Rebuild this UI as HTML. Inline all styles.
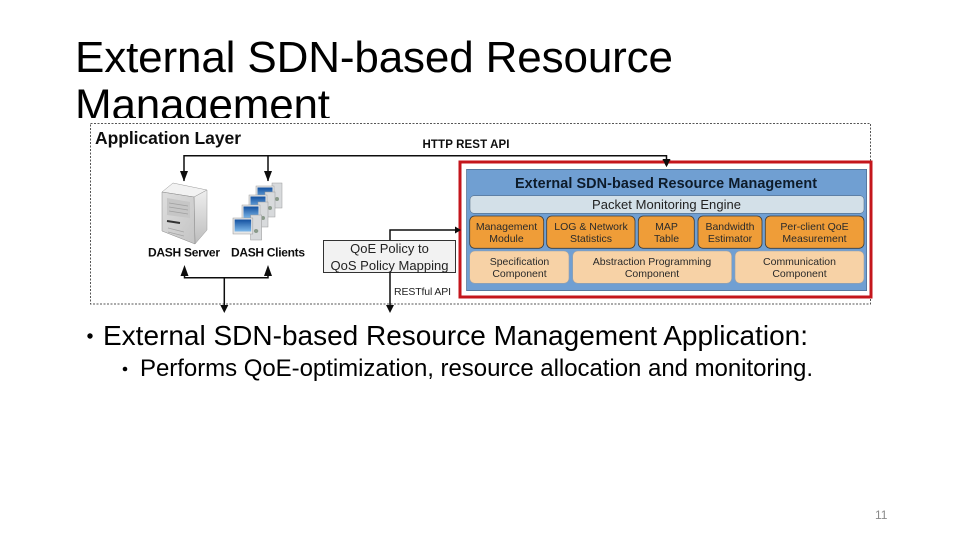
<!DOCTYPE html>
<html><head><meta charset="utf-8"><style>
html,body{margin:0;padding:0;background:#fff}
svg{display:block}
text{font-family:"Liberation Sans",sans-serif}
</style></head><body>
<svg width="960" height="540" viewBox="0 0 960 540" xmlns="http://www.w3.org/2000/svg">
<defs>
<linearGradient id="srv" x1="0" y1="0" x2="0" y2="1"><stop offset="0" stop-color="#eeeeee"/><stop offset="1" stop-color="#bdbdbd"/></linearGradient>
<linearGradient id="frt" x1="0" y1="0" x2="1" y2="1"><stop offset="0" stop-color="#dedede"/><stop offset="1" stop-color="#c4c4c4"/></linearGradient>
<linearGradient id="scr" x1="0" y1="0" x2="0" y2="1"><stop offset="0" stop-color="#14509f"/><stop offset="1" stop-color="#7db8ea"/></linearGradient>
<g id="pc">
<rect x="16" y="-3" width="10" height="25" fill="#d8dadc" stroke="#9a9a9a" stroke-width=".5"/>
<circle cx="21" cy="13" r="2" fill="#8a9a8a"/>
<rect x="0" y="0" width="18" height="16" fill="#e6e6e6" stroke="#9a9a9a" stroke-width=".5"/>
<rect x="1.500" y="1.500" width="15" height="12" fill="url(#scr)"/>
</g>
<filter id="b" x="-2%" y="-2%" width="104%" height="104%"><feGaussianBlur stdDeviation="0.35"/></filter>
</defs>
<rect width="960" height="540" fill="#fff"/>
<text x="75" y="72" font-size="44" textLength="598" lengthAdjust="spacing" fill="#000">External SDN-based Resource</text>
<text x="75" y="119.500" font-size="44" textLength="255" lengthAdjust="spacing" fill="#000">Management</text>
<rect x="70" y="118" width="810" height="194" fill="#fff"/>

<g filter="url(#b)">
<rect x="90.500" y="123.500" width="780" height="180.500" fill="#fff" stroke="#555" stroke-width="1" stroke-dasharray="2 1.500"/>
<text x="95" y="144" font-size="17.500" font-weight="bold" fill="#111" textLength="146" lengthAdjust="spacing">Application Layer</text>
<text x="422.500" y="148" font-size="11.500" font-weight="bold" fill="#111" textLength="87" lengthAdjust="spacing">HTTP REST API</text>

<path d="M184 181V155.700H666.500V164M268 155.700V181" fill="none" stroke="#111" stroke-width="1.500"/>
<path d="M180 171h8l-4 10.500zM264 171h8l-4 10.500zM662.500 160h8l-4 7z" fill="#111"/>

<path d="M162 192L173 183L207 190L194 197Z" fill="#f2f2f2" stroke="#999" stroke-width=".5"/>
<path d="M194 197L207 190V230L195 244Z" fill="url(#srv)" stroke="#999" stroke-width=".5"/>
<path d="M162 192L194 197L195 244L162 231Z" fill="url(#frt)" stroke="#888" stroke-width=".5"/>
<path d="M167 198L190 202V218L167 215Z" fill="#c6c6c6"/>
<path d="M169 203L188 206M169 207L188 210M169 211L188 214" stroke="#a0a0a0" stroke-width=".8"/>
<path d="M167 221L180 223" stroke="#333" stroke-width="2"/>
<path d="M168 228L184 232M168 232L184 236" stroke="#a5a5a5" stroke-width=".8"/>

<use href="#pc" x="256" y="186"/>
<use href="#pc" x="249" y="195"/>
<use href="#pc" x="242" y="205"/>
<g transform="translate(233 218) scale(1.100 1)"><use href="#pc"/></g>

<text x="148" y="256.500" font-size="12" font-weight="bold" fill="#111" textLength="72" lengthAdjust="spacing">DASH Server</text>
<text x="231" y="256.500" font-size="12" font-weight="bold" fill="#111" textLength="74" lengthAdjust="spacing">DASH Clients</text>

<path d="M184.500 268V277.700H268V268M224.300 277.700V310" fill="none" stroke="#111" stroke-width="1.500"/>
<path d="M180.500 276l4-11 4 11zM264 276l4-11 4 11zM220.300 305h8l-4 8zM386 305h8l-4 8z" fill="#111"/>

<path d="M390 240V230H458" fill="none" stroke="#111" stroke-width="1.500"/>
<rect x="323.500" y="240.500" width="132" height="32" fill="#f2f2f2" stroke="#333" stroke-width="1"/>
<text x="389.500" y="253" font-size="13" text-anchor="middle" fill="#222">QoE Policy to</text>
<text x="389.500" y="270" font-size="13" text-anchor="middle" fill="#222" textLength="118" lengthAdjust="spacing">QoS Policy Mapping</text>
<path d="M390 272.500V310" fill="none" stroke="#111" stroke-width="1.500"/>
<text x="394" y="295" font-size="10.500" fill="#222" textLength="57" lengthAdjust="spacing">RESTful API</text>

<rect x="466.500" y="169.300" width="400.200" height="121.400" fill="#6f9fd2" stroke="#35506f" stroke-width=".5"/>
<text x="666" y="188" font-size="14.400" font-weight="bold" text-anchor="middle" fill="#0f1a2c" textLength="302" lengthAdjust="spacing">External SDN-based Resource Management</text>
<rect x="470" y="195.700" width="394" height="17.600" rx="4" fill="#d3e0e8" stroke="#4a6078" stroke-width=".5"/>
<text x="666.500" y="209" font-size="13" text-anchor="middle" fill="#222" textLength="149" lengthAdjust="spacing">Packet Monitoring Engine</text>

<g fill="#ef9d38" stroke="#3c3c3c" stroke-width=".8">
<rect x="469.700" y="216" width="74" height="32.300" rx="5"/>
<rect x="546.700" y="216" width="88.300" height="32.300" rx="5"/>
<rect x="638.300" y="216" width="56" height="32.300" rx="5"/>
<rect x="698" y="216" width="64" height="32.300" rx="5"/>
<rect x="765.300" y="216" width="98.700" height="32.300" rx="5"/>
</g>
<g fill="#f7d2a6" stroke="#9aa0a8" stroke-width=".6">
<rect x="469.700" y="251" width="99.300" height="32.300" rx="5"/>
<rect x="572.700" y="251" width="159" height="32.300" rx="5"/>
<rect x="735" y="251" width="129" height="32.300" rx="5"/>
</g>
<g font-size="10.500" text-anchor="middle" fill="#2a2a2a">
<text x="506.500" y="230">Management</text><text x="506.500" y="242">Module</text>
<text x="591" y="230">LOG &amp; Network</text><text x="591" y="242">Statistics</text>
<text x="666.500" y="230">MAP</text><text x="666.500" y="242">Table</text>
<text x="730" y="230">Bandwidth</text><text x="730" y="242">Estimator</text>
<text x="814.500" y="230">Per-client QoE</text><text x="814.500" y="242">Measurement</text>
<text x="519.500" y="265">Specification</text><text x="519.500" y="277">Component</text>
<text x="652" y="265">Abstraction Programming</text><text x="652" y="277">Component</text>
<text x="799.500" y="265">Communication</text><text x="799.500" y="277">Component</text>
</g>
<rect x="460" y="162" width="411" height="135" fill="none" stroke="#c4161c" stroke-width="3"/>
<path d="M662.500 159h8l-4 8zM455 226.500l6 3.500-6 3.500z" fill="#111"/>
</g>

<circle cx="90" cy="336" r="2.700" fill="#000"/>
<text x="103" y="345" font-size="28" textLength="705" lengthAdjust="spacing" fill="#000">External SDN-based Resource Management Application:</text>
<circle cx="125" cy="369" r="2.300" fill="#000"/>
<text x="140" y="376" font-size="24" textLength="673" lengthAdjust="spacing" fill="#000">Performs QoE-optimization, resource allocation and monitoring.</text>
<text x="875" y="519" font-size="12" fill="#8a8a8a">11</text>
</svg>
</body></html>
